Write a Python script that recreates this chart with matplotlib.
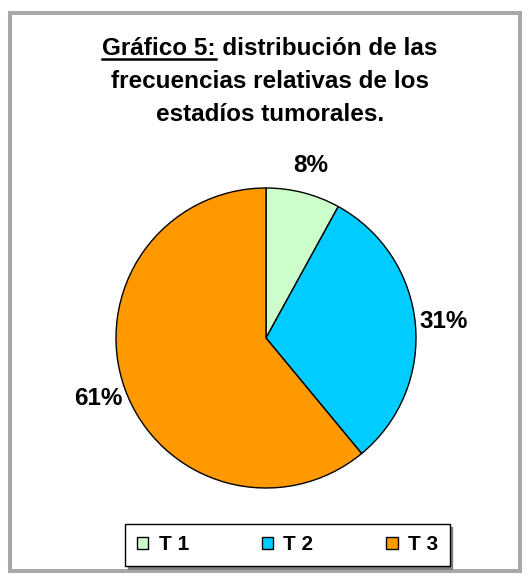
import matplotlib
matplotlib.use("Agg")
import matplotlib.pyplot as plt
from matplotlib.patches import Rectangle, Patch
from matplotlib.lines import Line2D

# Data
categories = ["T 1", "T 2", "T 3"]
percentages = [8, 31, 61]
colors = ["#CCFFCC", "#00CCFF", "#FF9900"]

title_prefix = "Gráfico 5:"
title_lines = [" distribución de las", "frecuencias relativas de los", "estadíos tumorales."]

W, H = 525, 574
plt.rcParams["font.family"] = ["Liberation Sans", "DejaVu Sans"]
fig = plt.figure(figsize=(W / 100, H / 100), dpi=100)

# outer dotted-gray border
fig.patches.append(Rectangle((10 / W, 3 / H), 510 / W, 558 / H, transform=fig.transFigure,
                             fill=False, edgecolor="#a8a8a8", linewidth=2.9))

# Title (first part underlined)
cx = 270 / W
fs_title = 17.5
line1 = fig.text(cx, 1 - 55 / H, title_prefix + title_lines[0], ha="center", va="baseline",
                 fontsize=fs_title, fontweight="bold")
for i, txt in enumerate(title_lines[1:]):
    fig.text(cx, 1 - (88 + 33 * i) / H, txt, ha="center", va="baseline",
             fontsize=fs_title, fontweight="bold")

renderer = fig.canvas.get_renderer()
bb = line1.get_window_extent(renderer)
tmp = fig.text(0, 0, title_prefix, fontsize=fs_title, fontweight="bold")
pw = tmp.get_window_extent(renderer).width
tmp.remove()
fig.add_artist(Line2D([bb.x0 / W, (bb.x0 + pw) / W], [1 - 59 / H, 1 - 59 / H],
                      transform=fig.transFigure, color="black", linewidth=1.8))

# Pie
r = 150
ax = fig.add_axes([(266 - r) / W, (H - 338 - r) / H, 2 * r / W, 2 * r / H])
ax.pie(percentages, colors=colors, startangle=90, counterclock=False, radius=1,
       labels=[f"{p}%" for p in percentages], labeldistance=1.19,
       wedgeprops=dict(edgecolor="black", linewidth=1.0, clip_on=False),
       textprops=dict(fontsize=17.5, fontweight="bold", ha="center", va="center"))
ax.set_xlim(-1.0, 1.0)
ax.set_ylim(-1.0, 1.0)
ax.set_aspect("equal")
ax.axis("off")

# Legend
handles = [Patch(facecolor=c, edgecolor="black", linewidth=1.0) for c in colors]
leg = fig.legend(handles, categories, loc="center", ncol=3, mode="expand",
                 bbox_to_anchor=(115 / W, (H - 567) / H, 345 / W, 44 / H),
                 frameon=True, fancybox=False, shadow={"color": "#808080", "alpha": 1.0},
                 edgecolor="black", handlelength=0.55, handleheight=0.55,
                 handletextpad=0.5, borderpad=0.55,
                 prop=dict(size=15, weight="bold"))
leg.get_frame().set_linewidth(1.0)

fig.savefig("out.png", dpi=100)
